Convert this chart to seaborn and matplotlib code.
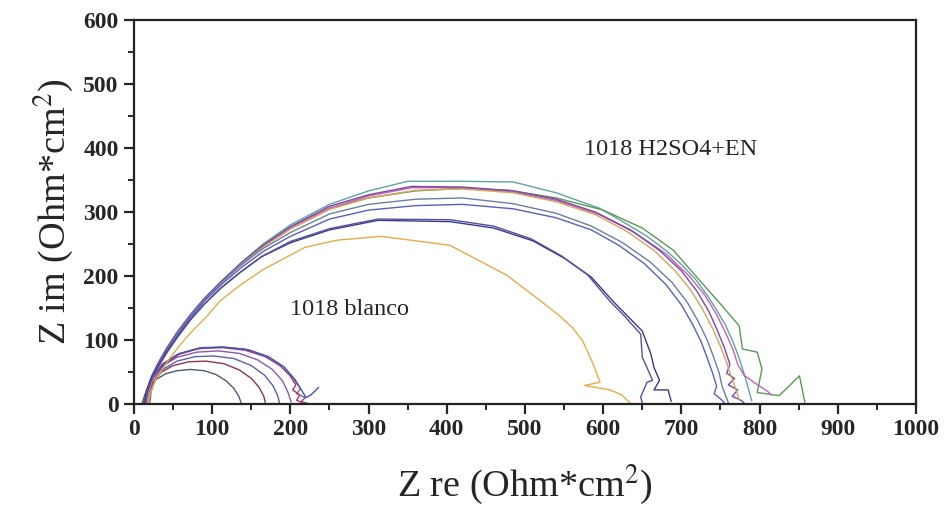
import matplotlib
matplotlib.use("Agg")
import matplotlib.pyplot as plt
from matplotlib.ticker import MultipleLocator
import seaborn as sns
import pandas as pd

# Nyquist spectra of AISI 1018 steel: blank (small arcs) and H2SO4 + EN (large arcs)
blanco_1 = [(10, 0), (14, 15), (20, 28), (28, 38), (40, 47), (55, 52), (72, 54), (90, 52),
            (105, 46), (118, 36), (128, 24), (134, 12), (137, 2)]
blanco_2 = [(16, 0), (19, 18), (25, 35), (35, 50), (50, 60), (70, 66), (92, 67), (115, 63),
            (135, 53), (150, 40), (160, 26), (166, 12), (168, 2)]
blanco_3 = [(20, 0), (22, 20), (28, 40), (38, 55), (55, 67), (78, 74), (102, 75), (128, 71),
            (150, 60), (167, 45), (178, 28), (184, 12), (186, 2)]
blanco_4 = [(14, 0), (18, 22), (25, 42), (37, 60), (55, 73), (80, 81), (108, 83), (135, 79),
            (158, 69), (177, 54), (190, 36), (197, 18), (201, 3)]
blanco_5 = [(12, 0), (16, 20), (24, 42), (36, 62), (55, 77), (80, 86), (110, 89), (140, 86),
            (165, 76), (185, 62), (199, 45), (207, 30), (203, 22), (212, 14), (208, 6), (215, 2)]
blanco_6 = [(18, 0), (21, 20), (28, 42), (40, 62), (58, 78), (84, 87), (114, 88), (142, 84),
            (168, 74), (189, 58), (204, 40), (213, 24), (208, 16), (219, 10), (214, 4), (222, 1)]
blanco_7 = [(15, 0), (18, 22), (26, 44), (39, 64), (58, 79), (85, 88), (115, 89), (146, 85),
            (172, 74), (192, 58), (206, 38), (214, 22), (220, 10), (226, 14), (233, 22), (236, 26)]

en_1 = [(14, 0), (17, 22), (23, 42), (31, 62), (42, 86), (56, 112), (72, 138), (90, 164),
        (112, 192), (137, 221), (165, 250), (200, 280), (250, 312), (300, 333), (350, 348),
        (420, 348), (485, 347), (540, 330), (595, 306), (625, 285), (655, 263), (680, 240),
        (700, 218), (718, 195), (733, 170), (745, 147), (756, 124), (765, 100), (772, 78),
        (778, 56), (783, 36), (787, 18), (790, 5)]
en_2 = [(13, 0), (16, 21), (22, 41), (30, 61), (41, 85), (55, 111), (71, 137), (89, 163),
        (111, 190), (136, 218), (164, 246), (200, 276), (250, 306), (300, 322), (360, 333),
        (420, 337), (480, 334), (540, 322), (600, 303), (650, 275), (690, 240), (722, 195),
        (748, 159), (774, 122), (778, 86), (797, 81), (803, 55), (797, 18), (825, 13),
        (851, 44), (858, 2)]
en_3 = [(15, 0), (18, 22), (24, 43), (32, 63), (43, 87), (57, 113), (73, 139), (91, 165),
        (113, 192), (138, 220), (166, 248), (200, 276), (250, 306), (300, 325), (355, 338),
        (420, 338), (485, 331), (540, 318), (595, 296), (640, 268), (680, 235), (710, 200),
        (730, 170), (745, 140), (757, 110), (766, 85), (772, 62), (780, 45), (795, 32),
        (810, 20), (815, 14)]
en_4 = [(13, 0), (16, 21), (22, 42), (30, 62), (41, 86), (55, 112), (71, 138), (89, 164),
        (111, 191), (136, 219), (164, 247), (200, 277), (250, 309), (300, 327), (355, 340),
        (420, 339), (485, 333), (540, 320), (590, 300), (635, 272), (672, 240), (700, 208),
        (720, 176), (735, 145), (746, 115), (755, 88), (762, 62), (758, 48), (768, 40),
        (760, 30), (772, 22), (765, 12), (776, 6), (780, 2)]
en_5 = [(16, 0), (19, 22), (25, 43), (33, 63), (44, 87), (58, 113), (74, 139), (92, 165),
        (114, 192), (139, 220), (167, 247), (200, 273), (250, 304), (300, 322), (360, 334),
        (420, 336), (485, 330), (540, 316), (590, 296), (630, 270), (665, 240), (692, 208),
        (712, 178), (727, 148), (740, 118), (750, 90), (758, 64), (764, 42), (770, 22), (774, 6)]
en_6 = [(14, 0), (17, 21), (23, 41), (31, 61), (42, 85), (56, 111), (72, 137), (90, 163),
        (112, 190), (137, 217), (165, 243), (200, 268), (250, 297), (300, 312), (360, 320),
        (420, 322), (485, 313), (540, 298), (585, 278), (625, 252), (660, 222), (688, 190),
        (708, 158), (722, 128), (733, 100), (741, 74), (748, 50), (752, 28), (757, 12), (760, 2)]
en_7 = [(15, 0), (18, 21), (24, 41), (32, 61), (43, 85), (57, 110), (73, 136), (91, 162),
        (113, 188), (138, 214), (166, 239), (200, 262), (250, 289), (300, 303), (360, 310),
        (420, 312), (485, 305), (540, 291), (585, 272), (620, 248), (652, 220), (680, 187),
        (700, 155), (714, 125), (725, 98), (733, 72), (740, 48), (745, 28), (742, 16),
        (750, 8), (755, 2)]
en_8 = [(13, 0), (16, 20), (22, 40), (30, 58), (41, 80), (55, 104), (71, 130), (89, 155),
        (110, 180), (135, 205), (163, 230), (200, 252), (250, 272), (312, 287), (404, 285),
        (460, 275), (510, 255), (550, 228), (585, 198), (613, 160), (650, 114), (661, 78),
        (665, 57), (672, 37), (665, 22), (683, 22), (687, 4)]
en_9 = [(14, 0), (17, 20), (23, 40), (31, 58), (42, 80), (56, 105), (72, 131), (90, 156),
        (111, 181), (136, 206), (164, 231), (200, 254), (250, 274), (312, 289), (404, 288),
        (460, 278), (508, 258), (546, 232), (580, 202), (609, 160), (626, 139), (648, 109),
        (650, 73), (656, 57), (663, 37), (656, 34), (648, 11), (650, 1)]
en_10 = [(18, 0), (21, 18), (27, 36), (35, 52), (46, 72), (60, 94), (76, 116), (94, 138),
         (109, 160), (135, 185), (165, 210), (219, 245), (260, 256), (316, 262), (404, 248),
         (477, 201), (519, 162), (543, 139), (561, 119), (574, 98), (587, 63), (596, 34),
         (576, 29), (609, 22), (624, 14), (635, 1)]

curves = {
    "blanco_1": blanco_1, "blanco_2": blanco_2, "blanco_3": blanco_3, "blanco_4": blanco_4,
    "blanco_5": blanco_5, "blanco_6": blanco_6, "blanco_7": blanco_7,
    "en_1": en_1, "en_2": en_2, "en_3": en_3, "en_4": en_4, "en_5": en_5,
    "en_6": en_6, "en_7": en_7, "en_8": en_8, "en_9": en_9, "en_10": en_10,
}
colors = {
    "blanco_1": "#4d5b6e", "blanco_2": "#8e3458", "blanco_3": "#5a62a8", "blanco_4": "#8a58b0",
    "blanco_5": "#b0305a", "blanco_6": "#a04a8a", "blanco_7": "#3f55b5",
    "en_1": "#5fa3a3", "en_2": "#5a9a52", "en_3": "#c462b8", "en_4": "#7a48aa",
    "en_5": "#d9a45a", "en_6": "#6a7fa8", "en_7": "#5a5fc0", "en_8": "#3a3a8c",
    "en_9": "#55509e", "en_10": "#e3ad48",
}

rows = []
for name, pts in curves.items():
    for i, (zr, zi) in enumerate(pts):
        rows.append({"curve": name, "order": i, "Zre": zr, "Zim": zi})
df = pd.DataFrame(rows)

sns.set_theme(style="ticks")
plt.rcParams["font.family"] = ["Liberation Serif", "DejaVu Serif"]
plt.rcParams["mathtext.fontset"] = "stix"

fig = plt.figure(figsize=(9.45, 5.14), dpi=100)
ax = fig.add_axes([0.1418, 0.214, 0.8275, 0.747])

sns.lineplot(data=df, x="Zre", y="Zim", hue="curve", palette=colors, sort=False,
             estimator=None, linewidth=1.0, legend=False, ax=ax)

ax.set_xlim(0, 1000)
ax.set_ylim(0, 600)
ax.xaxis.set_major_locator(MultipleLocator(100))
ax.xaxis.set_minor_locator(MultipleLocator(50))
ax.yaxis.set_major_locator(MultipleLocator(100))
ax.yaxis.set_minor_locator(MultipleLocator(50))
ax.tick_params(axis="both", which="major", direction="out", length=7, width=1.6,
               labelsize=17, pad=4, top=False, right=False)
ax.tick_params(axis="both", which="minor", direction="out", length=4, width=1.4,
               top=False, right=False)
for lab in ax.get_xticklabels() + ax.get_yticklabels():
    lab.set_fontweight("bold")
for side in ["left", "bottom", "top", "right"]:
    ax.spines[side].set_linewidth(1.6)
    ax.spines[side].set_color("#222222")

ax.set_xlabel("Z re (Ohm*cm$^{2}$)", fontsize=27.5, labelpad=16)
ax.set_ylabel("Z im (Ohm*cm$^{2}$)", fontsize=27.5, labelpad=6)

ax.text(575, 397, "1018 H2SO4+EN", fontsize=17.5, va="center", ha="left")
ax.text(199, 147, "1018 blanco", fontsize=17.5, va="center", ha="left")

fig.savefig("out.png", dpi=100)
